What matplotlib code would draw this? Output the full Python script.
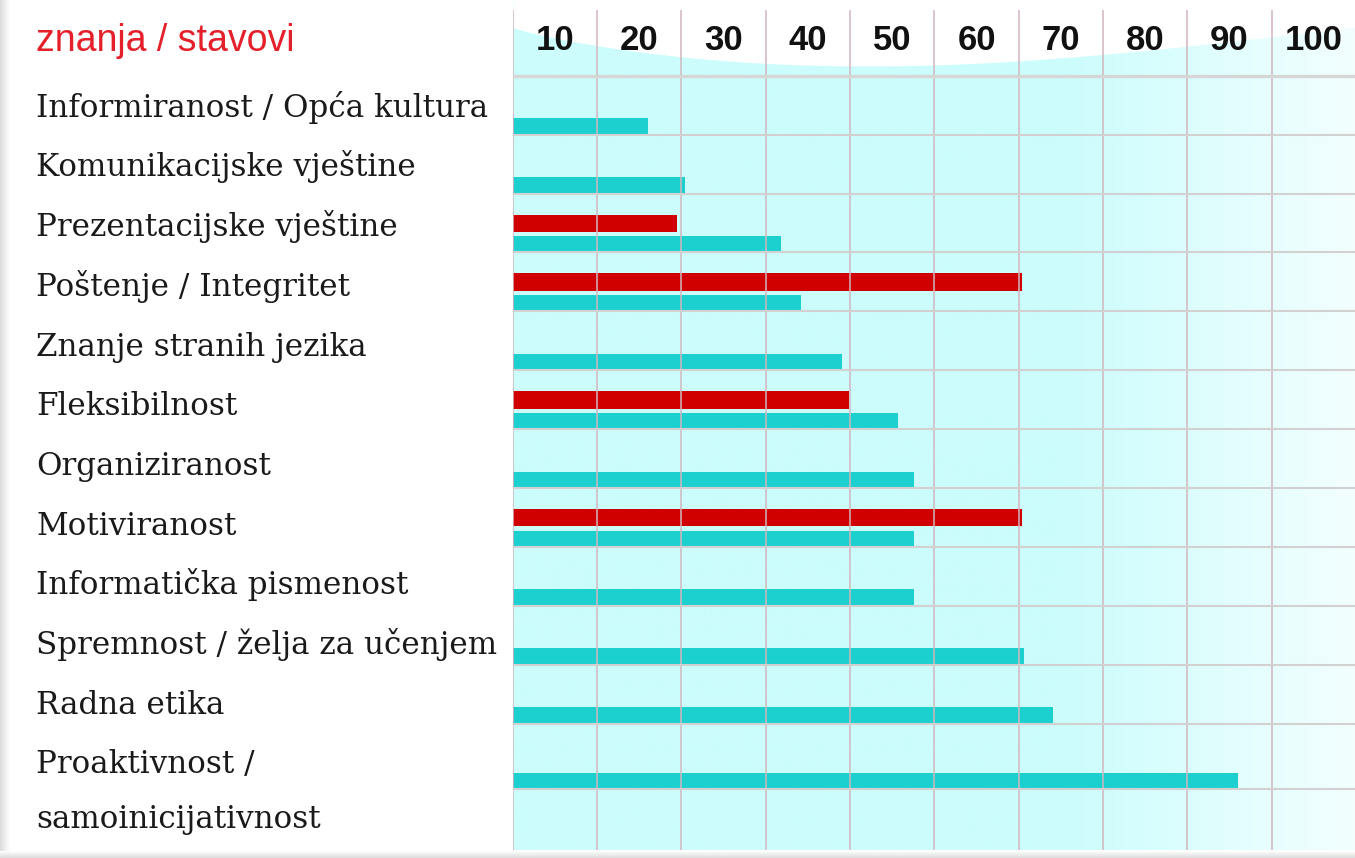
"""Horizontal bar chart: znanja / stavovi (two surveys, 0-100 scale)."""
import numpy as np
import matplotlib
matplotlib.use("Agg")
import matplotlib.pyplot as plt
from matplotlib import transforms

# ---------------------------------------------------------------------------
# Data
# ---------------------------------------------------------------------------
header_label = "znanja / stavovi"
categories = [
    "Informiranost / Opća kultura",
    "Komunikacijske vještine",
    "Prezentacijske vještine",
    "Poštenje / Integritet",
    "Znanje stranih jezika",
    "Fleksibilnost",
    "Organiziranost",
    "Motiviranost",
    "Informatička pismenost",
    "Spremnost / želja za učenjem",
    "Radna etika",
    "Proaktivnost /\nsamoinicijativnost",
]
cyan_values = [16.0, 20.4, 31.8, 34.2, 39.1, 45.7, 47.6, 47.6, 47.6, 60.6, 64.1, 86.0]
red_values = [np.nan, np.nan, 19.5, 60.4, np.nan, 39.9, np.nan, 60.4, np.nan, np.nan, np.nan, np.nan]
tick_values = [10, 20, 30, 40, 50, 60, 70, 80, 90, 100]

# ---------------------------------------------------------------------------
# Layout (figure pixels -> row units)
# ---------------------------------------------------------------------------
W, H = 1355, 858
X0_PX = 512.7          # x = 0
PX_PER_UNIT = 8.433    # pixels per value unit
TOP_PX = 75.7          # first row line
ROW_PX = 58.9          # row pitch


def py(px):
    """figure pixel y -> row units"""
    return (np.asarray(px, dtype=float) - TOP_PX) / ROW_PX


row_edges = list(range(12)) + [float(py(789.3))]
n = len(categories)

CYAN = "#1dd0d0"
RED = "#d00000"
GRID = "#d2b6bd"
LINE = "#d3d0d1"

fig = plt.figure(figsize=(W / 100, H / 100), dpi=100)
fig.patch.set_facecolor("white")

# background decoration (page shadows), pixel coordinates
bg = fig.add_axes([0, 0, 1, 1])
bg.set_xlim(0, W)
bg.set_ylim(H, 0)
bg.axis("off")
shade = np.linspace(0.86, 1.0, 64)
bg.imshow(np.tile(shade, (2, 1)), cmap="gray", vmin=0, vmax=1,
          extent=(0, 10, H, 0), aspect="auto", zorder=0)
bg.imshow(np.tile(shade[::-1][:, None], (1, 2)), cmap="gray", vmin=0, vmax=1,
          extent=(0, W, H, 851), aspect="auto", zorder=0)

# main axes: value units in x, row units in y
ax = fig.add_axes([X0_PX / W, 0, 1 - X0_PX / W, 1])
xmax = (W - X0_PX) / PX_PER_UNIT
ax.set_xlim(0, xmax)
ax.set_ylim(float(py(H)), float(py(0)))
ax.axis("off")
ax.patch.set_alpha(0)

# cyan panel fading to white at the right
xs = np.linspace(0, xmax, 400)
c_left = np.array([0.80, 0.99, 0.99])
c_right = np.array([0.95, 1.0, 1.0])
f = np.clip((xs - 65) / (xmax - 65), 0, 1)[:, None]
grad = (c_left * (1 - f) + c_right * f)[None, :, :]
y_bot = float(py(850))
ax.imshow(grad, extent=(0, xmax, y_bot, float(py(0))), aspect="auto", zorder=0)

# white wave over the top of the panel
t = xs / xmax
wave_px = 27 + 39 * np.sin(np.pi * t ** 0.8)
ax.fill_between(xs, float(py(0)) - 0.1, py(wave_px), color="white", lw=0, zorder=0.5)

# vertical grid
ax.vlines(np.arange(0, 100, 10), float(py(10)), y_bot, colors=GRID, lw=1.3,
          alpha=0.85, zorder=3)

# horizontal row lines spanning the whole page
blend = transforms.blended_transform_factory(fig.transFigure, ax.transData)
ax.hlines(row_edges[1:], 10 / W, 1, colors=LINE, lw=1.5, transform=blend, zorder=3)
ax.hlines([0], 10 / W, 1, colors="#d6d6d6", lw=2.4, transform=blend, zorder=3)

# bars, stacked at the bottom of each row
bottoms = np.array(row_edges[1:])
cyan_y = bottoms - 0.145
red_y = bottoms - 0.495
ax.barh(cyan_y, cyan_values, height=0.265, left=0, color=CYAN, zorder=2)
red_arr = np.array(red_values)
mask = ~np.isnan(red_arr)
ax.barh(red_y[mask], red_arr[mask], height=0.295, left=0, color=RED, zorder=2)

# top scale labels centred in each column
for v in tick_values:
    ax.text(v - 5, float(py(50)), str(v), ha="center", va="baseline",
            fontsize=25, fontweight="bold", family="Liberation Sans",
            color="#111111", zorder=4)

# header label
ax.text(36 / W, float(py(51)), header_label, transform=blend, ha="left",
        va="baseline", fontsize=27, family="Liberation Sans", color="#e4202a")

# category labels
for i, lab in enumerate(categories):
    base = 116.7 + 59.7 * i
    for j, part in enumerate(lab.split("\n")):
        ax.text(36 / W, float(py(base + 55 * j)), part, transform=blend,
                ha="left", va="baseline", fontsize=22.3, family="DejaVu Serif",
                color="#1a1a1a")

fig.savefig("out.png", dpi=100)
